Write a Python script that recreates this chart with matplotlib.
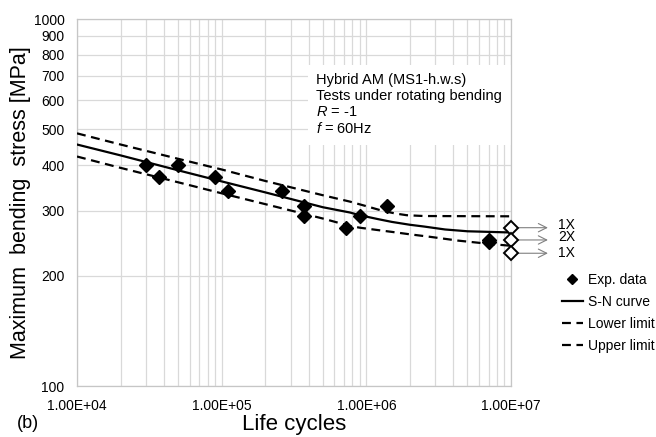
import matplotlib
matplotlib.use("Agg")
import matplotlib.pyplot as plt
from matplotlib.patches import Rectangle
from matplotlib.ticker import FixedLocator, NullFormatter, NullLocator

plt.rcParams["font.family"] = ["Liberation Sans", "DejaVu Sans"]
plt.rcParams["mathtext.fontset"] = "custom"
plt.rcParams["mathtext.rm"] = "Liberation Sans"
plt.rcParams["mathtext.it"] = "Liberation Sans:italic"

# experimental points (failures)
exp_N = [3.0e4, 3.7e4, 5.0e4, 9.0e4, 1.1e5, 2.6e5, 3.7e5, 3.7e5, 7.2e5, 9.0e5, 1.4e6, 7.0e6, 7.0e6]
exp_S = [400, 370, 400, 370, 340, 340, 310, 290, 270, 290, 310, 250, 247]

# run-outs at 1e7 cycles
runout_N = [1e7, 1e7, 1e7]
runout_S = [270, 250, 230]
runout_labels = ["1X", "2X", "1X"]

# curves
sn_N = [1e4, 2e4, 5e4, 1e5, 2e5, 5e5, 7.7e5, 9e5, 1.2e6, 1.5e6, 2e6, 2.5e6, 3.5e6, 5e6, 1e7]
sn_S = [455, 425, 387, 361, 337, 307, 297, 292, 285, 280, 275, 272, 267, 264, 262]

lower_N = [1e4, 2e4, 5e4, 1e5, 2e5, 5e5, 7.7e5, 9e5, 1.2e6, 1.5e6, 2e6, 2.75e6, 4.3e6, 7e6, 1e7]
lower_S = [422, 393, 359, 335, 313, 286, 273, 270, 266, 263, 259, 255, 249, 244, 241]

upper_N = [1e4, 2e4, 5e4, 1e5, 2e5, 5e5, 7.7e5, 1e6, 1.3e6, 1.6e6, 1.9e6, 2.5e6, 1e7]
upper_S = [488, 455, 416, 389, 362, 331, 318, 309, 300, 295, 292, 290.5, 290]

x_ticks = [1e4, 1e5, 1e6, 1e7]
x_ticklabels = ["1.00E+04", "1.00E+05", "1.00E+06", "1.00E+07"]
y_ticks = [100, 200, 300, 400, 500, 600, 700, 800, 900, 1000]

grid_col = "#d9d9d9"
dash = (0, (4, 2.5))

fig = plt.figure(figsize=(6.56, 4.37), dpi=100)
ax = fig.add_axes([0.1174, 0.1167, 0.6616, 0.8398])

ax.set_xscale("log")
ax.set_yscale("log")
ax.set_xlim(1e4, 1e7)
ax.set_ylim(100, 1000)

ax.set_xticks(x_ticks, labels=x_ticklabels)
minor_x = [m * 10 ** e for e in range(4, 7) for m in range(2, 10)]
ax.xaxis.set_minor_locator(FixedLocator(minor_x))
ax.xaxis.set_minor_formatter(NullFormatter())
ax.set_yticks(y_ticks, labels=[str(v) for v in y_ticks])
ax.yaxis.set_minor_locator(NullLocator())

ax.grid(True, which="both", color=grid_col, linewidth=0.9)
ax.tick_params(which="both", length=0, labelsize=10, pad=9)
for sp in ax.spines.values():
    sp.set_color("#c6c6c6")
    sp.set_linewidth(0.9)

# white box behind the test description
ax.add_patch(Rectangle((0.532, 0.657), 0.468, 0.218, transform=ax.transAxes,
                       facecolor="white", edgecolor="none", zorder=1.6))
ax.text(0.551, 0.853,
        "Hybrid AM (MS1-h.w.s)\nTests under rotating bending\n$R$ = -1\n$f$ = 60Hz",
        transform=ax.transAxes, fontsize=10.5, va="top", ha="left",
        linespacing=1.17, zorder=3)

ax.plot(exp_N, exp_S, "D", color="black", markersize=7, zorder=4,
        label="Exp. data", linestyle="none")
ax.plot(sn_N, sn_S, color="black", linewidth=1.6, label="S-N curve", zorder=3)
ax.plot(lower_N, lower_S, color="black", linewidth=1.6, linestyle=dash,
        label="Lower limit", zorder=3)
ax.plot(upper_N, upper_S, color="black", linewidth=1.6, linestyle=dash,
        label="Upper limit", zorder=3)
ax.plot(runout_N, runout_S, "D", markerfacecolor="white", markeredgecolor="black",
        markeredgewidth=1.4, markersize=7, linestyle="none", clip_on=False, zorder=5)

label_offsets = [2.2, 1.9, 0]
for s, lab, dy in zip(runout_S, runout_labels, label_offsets):
    ax.annotate("", xy=(1.085, s), xytext=(1.014, s),
                xycoords=("axes fraction", "data"), textcoords=("axes fraction", "data"),
                arrowprops=dict(arrowstyle="->,head_length=0.6,head_width=0.3",
                                color="#808080", lw=0.8, shrinkA=0, shrinkB=0),
                annotation_clip=False)
    ax.annotate(lab, xy=(1.108, s), xycoords=("axes fraction", "data"),
                xytext=(0, dy), textcoords="offset points",
                fontsize=10, va="center", ha="left", annotation_clip=False)

ax.set_xlabel("Life cycles", fontsize=16, va="center")
ax.xaxis.set_label_coords(0.5, -0.105)
ax.set_ylabel("Maximum  bending  stress [MPa]", fontsize=15.5, va="center")
ax.yaxis.set_label_coords(-0.131, 0.5)

fig.text(28 / 656, 1 - 423 / 437, "(b)", fontsize=13, ha="center", va="center")

ax.legend(loc="upper left", bbox_to_anchor=(562 / 656, 1 - 273 / 437),
          bbox_transform=fig.transFigure, frameon=False, fontsize=10,
          handlelength=1.5, handletextpad=0.35, labelspacing=0.58,
          borderaxespad=0, borderpad=0, numpoints=1, markerscale=0.7)

fig.savefig("out.png", dpi=100, facecolor="white")
